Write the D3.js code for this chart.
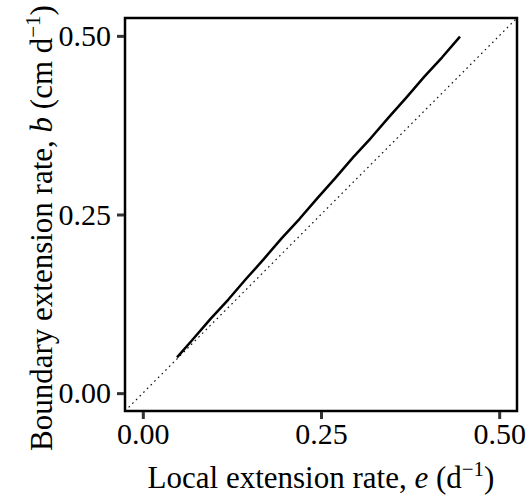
<!DOCTYPE html>
<html>
<head>
<meta charset="utf-8">
<script src="https://cdn.jsdelivr.net/npm/d3@7"></script>
<style>
  body { margin: 0; background: #fff; }
  text { font-family: "Liberation Serif", "Times New Roman", serif; }
</style>
</head>
<body>
<script>
// local extension rate e vs boundary extension rate b
const eVals = [0.048, 0.07, 0.095, 0.12, 0.145, 0.17, 0.195, 0.22, 0.245, 0.27, 0.295, 0.32, 0.345, 0.37, 0.395, 0.42, 0.445];
const bVals = [0.050, 0.075, 0.104, 0.131, 0.160, 0.188, 0.217, 0.244, 0.273, 0.301, 0.330, 0.357, 0.386, 0.414, 0.443, 0.470, 0.499];
const xTicks = [0, 0.25, 0.5];
const yTicks = [0, 0.25, 0.5];

const width = 526, height = 497;
const margin = {left: 125, right: 9, top: 18, bottom: 86};

const svg = d3.select("body").append("svg")
    .attr("width", width)
    .attr("height", height);

const x = d3.scaleLinear().domain([-0.025, 0.525]).range([margin.left, width - margin.right]);
const y = d3.scaleLinear().domain([-0.025, 0.525]).range([height - margin.bottom, margin.top]);

svg.append("clipPath").attr("id", "clip")
  .append("rect")
    .attr("x", margin.left).attr("y", margin.top)
    .attr("width", x.range()[1] - x.range()[0])
    .attr("height", y.range()[0] - y.range()[1]);

const pts = eVals.map((e, i) => ({e: e, b: bVals[i]}));

const plot = svg.append("g").attr("clip-path", "url(#clip)");

// 1:1 line
plot.append("line")
    .attr("x1", x(-0.025)).attr("y1", y(-0.025))
    .attr("x2", x(0.525)).attr("y2", y(0.525))
    .attr("stroke", "#111")
    .attr("stroke-width", 1.2)
    .attr("stroke-dasharray", "1.6,3.6");

plot.append("path")
    .datum(pts)
    .attr("fill", "none")
    .attr("stroke", "black")
    .attr("stroke-width", 2.5)
    .attr("stroke-linejoin", "round")
    .attr("d", d3.line().x(d => x(d.e)).y(d => y(d.b)));

// panel border
svg.append("rect")
    .attr("x", margin.left).attr("y", margin.top)
    .attr("width", x.range()[1] - x.range()[0])
    .attr("height", y.range()[0] - y.range()[1])
    .attr("fill", "none")
    .attr("stroke", "black")
    .attr("stroke-width", 2.5);

const fmt = d3.format(".2f");

const xAxis = svg.append("g")
    .attr("transform", `translate(0,${y.range()[0] + 1})`)
    .call(d3.axisBottom(x).tickValues(xTicks).tickFormat(fmt).tickSize(7).tickPadding(4));
xAxis.select(".domain").remove();
xAxis.selectAll(".tick line").attr("stroke", "#333").attr("stroke-width", 3);
xAxis.selectAll(".tick text").attr("font-size", 30).attr("fill", "black")
    .attr("font-family", "Liberation Serif");

const yAxis = svg.append("g")
    .attr("transform", `translate(${margin.left - 1},0)`)
    .call(d3.axisLeft(y).tickValues(yTicks).tickFormat(fmt).tickSize(7).tickPadding(6));
yAxis.select(".domain").remove();
yAxis.selectAll(".tick line").attr("stroke", "#333").attr("stroke-width", 3);
yAxis.selectAll(".tick text").attr("font-size", 30).attr("fill", "black")
    .attr("font-family", "Liberation Serif");

// axis titles
const xt = svg.append("text")
    .attr("x", (x.range()[0] + x.range()[1]) / 2)
    .attr("y", 488)
    .attr("text-anchor", "middle")
    .attr("font-size", 31);
xt.append("tspan").text("Local extension rate, ");
xt.append("tspan").attr("font-style", "italic").text("e");
xt.append("tspan").text(" (d");
xt.append("tspan").attr("font-size", 21).attr("dy", -12).text("\u22121");
xt.append("tspan").attr("dy", 12).text(")");

const yt = svg.append("text")
    .attr("transform", "translate(52,228) rotate(-90)")
    .attr("text-anchor", "middle")
    .attr("font-size", 31);
yt.append("tspan").text("Boundary extension rate, ");
yt.append("tspan").attr("font-style", "italic").text("b");
yt.append("tspan").text(" (cm d");
yt.append("tspan").attr("font-size", 21).attr("dy", -12).text("\u22121");
yt.append("tspan").attr("dy", 12).text(")");
</script>
</body>
</html>
